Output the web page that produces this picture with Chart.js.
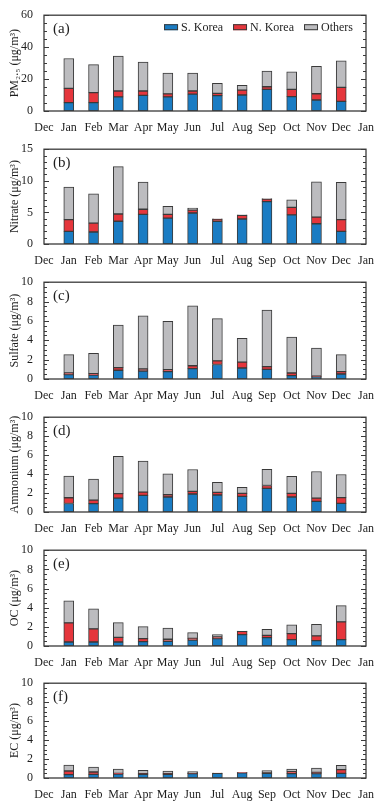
<!DOCTYPE html>
<html><head><meta charset="utf-8">
<script src="https://cdn.jsdelivr.net/npm/chart.js@4"></script>
<style>
html,body{margin:0;padding:0;background:#fff;width:391px;height:805px;overflow:hidden}
.p{position:absolute;left:0;width:391px}
</style></head><body>
<div id="wrap"></div>
<script>
const months = ['Dec','Jan','Feb','Mar','Apr','May','Jun','Jul','Aug','Sep','Oct','Nov','Dec','Jan'];
const seriesNames = ['S. Korea','N. Korea','Others'];

// (a) PM2.5
const pm25_sk = [5.2, 5.2, 8.8, 9.8, 8.8, 10.6, 9.6, 10.0, 13.5, 9.0, 6.9, 6.0];
const pm25_nk = [9.0, 6.3, 3.7, 2.7, 1.9, 1.9, 1.4, 3.1, 1.7, 4.5, 3.9, 8.8];
const pm25_ot = [18.7, 17.5, 21.9, 18.1, 13.1, 11.3, 6.3, 2.9, 9.8, 11.1, 17.1, 16.7];
// (b) Nitrate
const no3_sk = [2.0, 1.9, 3.6, 4.7, 4.1, 4.9, 3.6, 3.95, 6.7, 4.6, 3.2, 2.0];
const no3_nk = [1.85, 1.4, 1.15, 0.8, 0.6, 0.45, 0.35, 0.6, 0.4, 1.2, 1.05, 1.85];
const no3_ot = [5.15, 4.65, 7.5, 4.3, 1.25, 0.35, 0.05, 0.05, 0.1, 1.2, 5.6, 5.9];
// (c) Sulfate
const so4_sk = [0.45, 0.4, 0.9, 0.83, 0.76, 1.07, 1.5, 1.14, 1.0, 0.35, 0.22, 0.52];
const so4_nk = [0.17, 0.15, 0.28, 0.2, 0.2, 0.3, 0.38, 0.6, 0.28, 0.27, 0.08, 0.24];
const so4_ot = [1.9, 2.1, 4.4, 5.5, 5.0, 6.2, 4.35, 2.45, 5.85, 3.7, 2.9, 1.75];
// (d) Ammonium
const nh4_sk = [0.9, 0.88, 1.47, 1.75, 1.58, 1.9, 1.79, 1.65, 2.49, 1.58, 1.12, 0.91];
const nh4_nk = [0.6, 0.38, 0.46, 0.35, 0.24, 0.28, 0.28, 0.31, 0.31, 0.38, 0.35, 0.6];
const nh4_ot = [2.3, 2.2, 3.93, 3.27, 2.2, 2.3, 1.05, 0.64, 1.7, 1.79, 2.8, 2.45];
// (e) OC
const oc_sk = [0.42, 0.42, 0.42, 0.45, 0.5, 0.63, 0.77, 1.18, 0.87, 0.66, 0.56, 0.66];
const oc_nk = [2.0, 1.36, 0.48, 0.32, 0.2, 0.17, 0.17, 0.35, 0.24, 0.63, 0.49, 1.85];
const oc_ot = [2.3, 2.1, 1.54, 1.25, 1.18, 0.6, 0.24, 0.04, 0.63, 0.91, 1.2, 1.7];
// (f) EC
const ec_sk = [0.35, 0.39, 0.42, 0.39, 0.39, 0.46, 0.5, 0.55, 0.49, 0.46, 0.46, 0.49];
const ec_nk = [0.39, 0.24, 0.07, 0.07, 0.07, 0.03, 0.02, 0.03, 0.04, 0.2, 0.14, 0.39];
const ec_ot = [0.63, 0.53, 0.46, 0.35, 0.28, 0.18, 0.01, 0.02, 0.24, 0.28, 0.45, 0.45];

const colors = ['#1a7cc3', '#e5363c', '#bcbcbf'];
const FONT = 'Liberation Serif';
const TXT = '#1e1e1e';

const panels = [
  {label:'(a)', title:'PM\u2082.\u2085 (\u03bcg/m\u00b3)', max:60, step:20, minor:5, top:15, bottom:111, data:[pm25_sk, pm25_nk, pm25_ot], legend:true},
  {label:'(b)', title:'Nitrate (\u03bcg/m\u00b3)', max:15, step:5, minor:1, top:149, bottom:244, data:[no3_sk, no3_nk, no3_ot]},
  {label:'(c)', title:'Sulfate (\u03bcg/m\u00b3)', max:10, step:2, minor:0.5, top:282, bottom:379, data:[so4_sk, so4_nk, so4_ot]},
  {label:'(d)', title:'Ammonium (\u03bcg/m\u00b3)', max:10, step:2, minor:0.5, top:417, bottom:512, data:[nh4_sk, nh4_nk, nh4_ot]},
  {label:'(e)', title:'OC (\u03bcg/m\u00b3)', max:10, step:2, minor:0.5, top:550, bottom:646, data:[oc_sk, oc_nk, oc_ot]},
  {label:'(f)', title:'EC (\u03bcg/m\u00b3)', max:10, step:2, minor:0.5, top:683, bottom:778, data:[ec_sk, ec_nk, ec_ot]},
];

const framePlugin = {
  id:'frame',
  afterDraw(chart){
    const o = chart.options.plugins.frame;
    const {ctx, chartArea:a} = chart;
    const y = chart.scales.y;
    ctx.save();
    ctx.strokeStyle = '#3a3a3a';
    ctx.lineWidth = 1.3;
    ctx.strokeRect(a.left, a.top, a.right - a.left, a.bottom - a.top);
    ctx.lineWidth = 1;
    const n = Math.round(o.max / o.minor);
    for (let i = 0; i <= n; i++) {
      const v = i * o.minor;
      const py = Math.round(y.getPixelForValue(v)) + 0.5;
      const r = v / o.step;
      const major = Math.abs(r - Math.round(r)) < 1e-6;
      const L = major ? 5 : 3;
      ctx.beginPath();
      ctx.moveTo(a.left, py); ctx.lineTo(a.left + L, py);
      ctx.moveTo(a.right, py); ctx.lineTo(a.right - L, py);
      ctx.stroke();
    }
    ctx.fillStyle = TXT;
    ctx.font = '15px "' + FONT + '"';
    ctx.textBaseline = 'middle';
    ctx.textAlign = 'left';
    ctx.fillText(o.label, a.left + 9, a.top + 14);

    // in-plot legend, drawn right-to-left from the dataset list
    if (o.legend) {
      ctx.font = '12px "' + FONT + '"';
      const ds = chart.data.datasets;
      const boxW = 14, boxH = 6, gapBT = 3, gapItem = 10;
      let xr = a.right - 13;
      const cy = a.top + 12;
      for (let k = ds.length - 1; k >= 0; k--) {
        const w = ctx.measureText(ds[k].label).width;
        const tx = xr - w;
        ctx.fillStyle = TXT;
        ctx.fillText(ds[k].label, tx, cy + 0.5);
        const bx = tx - gapBT - boxW;
        ctx.fillStyle = ds[k].backgroundColor;
        ctx.fillRect(bx, cy - boxH / 2, boxW, boxH);
        ctx.strokeStyle = '#3a3a3a';
        ctx.strokeRect(bx + 0.5, cy - boxH / 2 + 0.5, boxW - 1, boxH - 1);
        xr = bx - gapItem;
      }
    }
    ctx.restore();
  }
};

const PAD_TOP = 10, XH = 24;
const wrap = document.getElementById('wrap');
panels.forEach(p => {
  const h = (p.bottom - p.top) + PAD_TOP + XH;
  const div = document.createElement('div');
  div.className = 'p';
  div.style.top = (p.top - PAD_TOP) + 'px';
  div.style.height = h + 'px';
  const cv = document.createElement('canvas');
  cv.width = 391; cv.height = h;
  cv.style.width = '391px'; cv.style.height = h + 'px';
  div.appendChild(cv);
  wrap.appendChild(div);
  const datasets = seriesNames.map((name, k) => ({
    label: name,
    data: p.data[k].map((v, i) => ({x: i + 1, y: v})),
    backgroundColor: colors[k],
    borderColor: '#3a3a3a',
    borderWidth: 1,
    borderSkipped: false,
    barThickness: 10,
  }));
  new Chart(cv, {
    type: 'bar',
    data: {datasets},
    plugins: [framePlugin],
    options: {
      responsive: false,
      animation: false,
      layout: {padding: {top: PAD_TOP, right: 25, left: 0, bottom: 0}},
      plugins: {
        legend: {display: false},
        tooltip: {enabled: false},
        frame: {label: p.label, max: p.max, step: p.step, minor: p.minor, legend: !!p.legend}
      },
      scales: {
        x: {
          type: 'linear', min: 0, max: 13, stacked: true, offset: false,
          grid: {display: false}, border: {display: false},
          ticks: {stepSize: 1, autoSkip: false, maxRotation: 0, color: TXT, padding: 2,
                  font: {family: FONT, size: 12}, callback: v => months[v]},
          afterFit: s => { s.height = XH; }
        },
        y: {
          stacked: true, min: 0, max: p.max,
          grid: {display: false}, border: {display: false},
          ticks: {stepSize: p.step, color: TXT, padding: 3, font: {family: FONT, size: 12}},
          title: {display: true, text: p.title, color: TXT, font: {family: FONT, size: 12}, padding: {top: 8, bottom: 4}},
          afterFit: s => { s.width = 44; }
        }
      }
    }
  });
});
</script>
</body></html>
